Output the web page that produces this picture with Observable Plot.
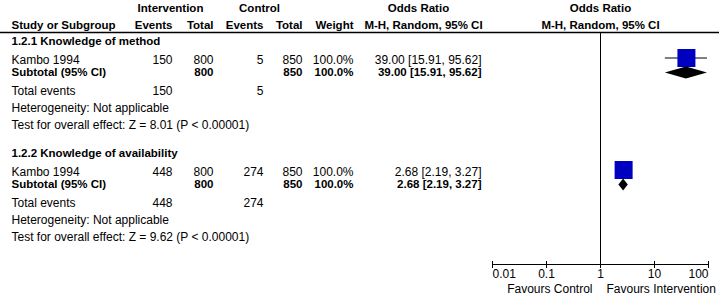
<!DOCTYPE html>
<html>
<head>
<meta charset="utf-8">
<script src="https://cdn.jsdelivr.net/npm/d3@7"></script>
<script src="https://cdn.jsdelivr.net/npm/@observablehq/plot@0.6"></script>
<style>
  html, body { margin: 0; padding: 0; background: #fff; }
  svg { display: block; }
</style>
</head>
<body>
<div id="chart"></div>
<script>
// ---------- data ----------
const groupNames = ["1.2.1 Knowledge of method", "1.2.2 Knowledge of availability"];
const studyNames = ["Kambo 1994", "Kambo 1994"];
const intEvents = [150, 448];
const intTotal = [800, 800];
const ctlEvents = [5, 274];
const ctlTotal = [850, 850];
const weights = [100, 100];
const oddsRatio = [39.00, 2.68];
const ciLow = [15.91, 2.19];
const ciHigh = [95.62, 3.27];
const zValues = ["8.01", "9.62"];
const pValues = ["P < 0.00001", "P < 0.00001"];
const tickValues = [0.01, 0.1, 1, 10, 100];
const tickLabels = ["0.01", "0.1", "1", "10", "100"];
const favourLeft = "Favours Control";
const favourRight = "Favours Intervention";

// ---------- layout (pixels) ----------
const FONT = "Liberation Sans, Arial, Helvetica, sans-serif";
const FS = 12;     // normal text
const FSB = 11.5;  // bold text
const X_DOMAIN = [0.01, 100], X_RANGE = [492, 708];
const groupBase = [41, 153];
const off = {head: 0, study: 18.5, sub: 30.5, tot: 49.5, het: 66.5, test: 83.5, square: 16.5, diamond: 31.5};
const hdrY1 = 8, hdrY2 = 25, hdrLineY = 32, axisY = 264, tickLabelY = 273.5, favourY = 288.5;

// table column positions (pixels) expressed in the x scale's domain
const px = d3.scaleLog(X_DOMAIN, X_RANGE);
const colPx = {label: 11, ie: 172, it: 213, ce: 263, ct: 302, w: 353, or: 481, intv: 170, ctl: 259, orHead: 418, orSub: 423, right: 719, left: 0, favL: 592, favR: 606};
const col = Object.fromEntries(Object.entries(colPx).map(([k, v]) => [k, px.invert(v)]));

const fmt2 = d3.format(".2f");
const rows = groupNames.map((g, i) => ({
  i, g, study: studyNames[i],
  ie: intEvents[i], it: intTotal[i], ce: ctlEvents[i], ct: ctlTotal[i],
  w: weights[i], or: oddsRatio[i], lo: ciLow[i], hi: ciHigh[i],
  y0: groupBase[i]
}));

const T = (data, xv, opts) => Plot.text(data, {x: () => xv, fontSize: opts.fontWeight === "bold" ? FSB : FS, fill: "black", lineAnchor: "middle", ...opts});

// diamond polygons as area
const diamonds = rows.flatMap(r => [
  {i: r.i, x: r.lo, y1: r.y0 + off.diamond, y2: r.y0 + off.diamond},
  {i: r.i, x: r.or, y1: r.y0 + off.diamond - 6, y2: r.y0 + off.diamond + 6},
  {i: r.i, x: r.hi, y1: r.y0 + off.diamond, y2: r.y0 + off.diamond}
]);

const ticks = tickValues.map((v, i) => ({v, label: tickLabels[i]}));
const ciText = d => `${fmt2(d.or)} [${fmt2(d.lo)}, ${fmt2(d.hi)}]`;

const chart = Plot.plot({
  width: 719,
  height: 304,
  margin: 0,
  style: {fontFamily: FONT, background: "white"},
  x: {type: "log", domain: X_DOMAIN, range: X_RANGE, axis: null},
  y: {type: "identity", axis: null},
  r: {type: "sqrt", domain: [0, 100], range: [0, 10.16]},
  marks: [
    // header line
    Plot.ruleY([hdrLineY], {x1: col.left, x2: col.right, stroke: "black", strokeWidth: 1.5}),
    // vertical null line
    Plot.ruleX([1], {y1: hdrLineY, y2: axisY, stroke: "black", strokeWidth: 1}),
    // header texts
    T(["Intervention"], col.intv, {y: () => hdrY1, text: d => d, textAnchor: "middle", fontWeight: "bold"}),
    T(["Control"], col.ctl, {y: () => hdrY1, text: d => d, textAnchor: "middle", fontWeight: "bold"}),
    T(["Odds Ratio"], col.orHead, {y: () => hdrY1, text: d => d, textAnchor: "middle", fontWeight: "bold"}),
    T(["Study or Subgroup"], col.label, {y: () => hdrY2, text: d => d, textAnchor: "start", fontWeight: "bold"}),
    T(["Events"], col.ie, {y: () => hdrY2, text: d => d, textAnchor: "end", fontWeight: "bold"}),
    T(["Total"], col.it, {y: () => hdrY2, text: d => d, textAnchor: "end", fontWeight: "bold"}),
    T(["Events"], col.ce, {y: () => hdrY2, text: d => d, textAnchor: "end", fontWeight: "bold"}),
    T(["Total"], col.ct, {y: () => hdrY2, text: d => d, textAnchor: "end", fontWeight: "bold"}),
    T(["Weight"], col.w, {y: () => hdrY2, text: d => d, textAnchor: "end", fontWeight: "bold"}),
    T(["M-H, Random, 95% CI"], col.orSub, {y: () => hdrY2, text: d => d, textAnchor: "middle", fontWeight: "bold"}),
    T(["Odds Ratio"], 1, {y: () => hdrY1, text: d => d, textAnchor: "middle", fontWeight: "bold"}),
    T(["M-H, Random, 95% CI"], 1, {y: () => hdrY2, text: d => d, textAnchor: "middle", fontWeight: "bold"}),
    // group headers
    T(rows, col.label, {y: d => d.y0 + off.head, text: "g", textAnchor: "start", fontWeight: "bold"}),
    // study rows
    T(rows, col.label, {y: d => d.y0 + off.study, text: "study", textAnchor: "start"}),
    T(rows, col.ie, {y: d => d.y0 + off.study, text: "ie", textAnchor: "end"}),
    T(rows, col.it, {y: d => d.y0 + off.study, text: "it", textAnchor: "end"}),
    T(rows, col.ce, {y: d => d.y0 + off.study, text: "ce", textAnchor: "end"}),
    T(rows, col.ct, {y: d => d.y0 + off.study, text: "ct", textAnchor: "end"}),
    T(rows, col.w, {y: d => d.y0 + off.study, text: d => d.w.toFixed(1) + "%", textAnchor: "end"}),
    T(rows, col.or, {y: d => d.y0 + off.study, text: ciText, textAnchor: "end"}),
    // subtotal rows
    T(rows, col.label, {y: d => d.y0 + off.sub, text: () => "Subtotal (95% CI)", textAnchor: "start", fontWeight: "bold"}),
    T(rows, col.it, {y: d => d.y0 + off.sub, text: "it", textAnchor: "end", fontWeight: "bold"}),
    T(rows, col.ct, {y: d => d.y0 + off.sub, text: "ct", textAnchor: "end", fontWeight: "bold"}),
    T(rows, col.w, {y: d => d.y0 + off.sub, text: d => d.w.toFixed(1) + "%", textAnchor: "end", fontWeight: "bold"}),
    T(rows, col.or, {y: d => d.y0 + off.sub, text: ciText, textAnchor: "end", fontWeight: "bold"}),
    // total events
    T(rows, col.label, {y: d => d.y0 + off.tot, text: () => "Total events", textAnchor: "start"}),
    T(rows, col.ie, {y: d => d.y0 + off.tot, text: "ie", textAnchor: "end"}),
    T(rows, col.ce, {y: d => d.y0 + off.tot, text: "ce", textAnchor: "end"}),
    // heterogeneity & test
    T(rows, col.label, {y: d => d.y0 + off.het, text: () => "Heterogeneity: Not applicable", textAnchor: "start"}),
    T(rows, col.label, {y: d => d.y0 + off.test, text: d => `Test for overall effect: Z = ${zValues[d.i]} (${pValues[d.i]})`, textAnchor: "start"}),
    // forest: CI lines
    Plot.ruleY(rows, {x1: "lo", x2: "hi", y: d => d.y0 + off.square, stroke: "black", strokeWidth: 1}),
    // squares
    Plot.dot(rows, {x: "or", y: d => d.y0 + off.square, r: "w", symbol: "square", fill: "#0000c0", stroke: "none"}),
    // diamonds
    Plot.areaY(diamonds, {x: "x", y1: "y1", y2: "y2", z: "i", fill: "black", curve: "linear"}),
    // axis
    Plot.ruleY([axisY], {x1: tickValues[0], x2: tickValues[tickValues.length - 1], stroke: "black", strokeWidth: 1}),
    Plot.ruleX(tickValues, {y1: axisY - 3, y2: axisY + 4, stroke: "black", strokeWidth: 1}),
    Plot.text(ticks.slice(0, 1), {x: "v", y: () => tickLabelY, text: "label", textAnchor: "start", fontSize: FS, lineAnchor: "middle"}),
    Plot.text(ticks.slice(1, -1), {x: "v", y: () => tickLabelY, text: "label", textAnchor: "middle", fontSize: FS, lineAnchor: "middle"}),
    Plot.text(ticks.slice(-1), {x: "v", y: () => tickLabelY, text: "label", textAnchor: "end", fontSize: FS, lineAnchor: "middle"}),
    T([favourLeft], col.favL, {y: () => favourY, text: d => d, textAnchor: "end"}),
    T([favourRight], col.favR, {y: () => favourY, text: d => d, textAnchor: "start"})
  ]
});
document.getElementById("chart").appendChild(chart);
</script>
</body>
</html>
